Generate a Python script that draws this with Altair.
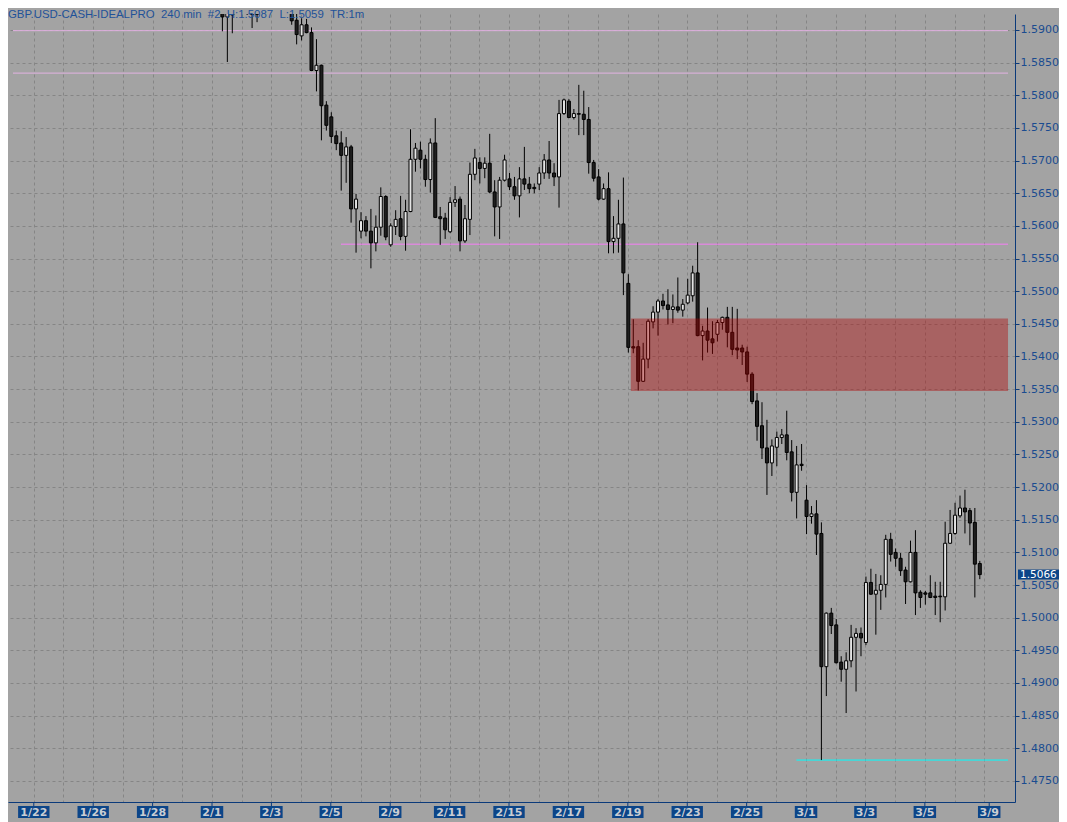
import altair as alt
import pandas as pd

# ---------------- data ----------------
TITLE = "GBP.USD-CASH-IDEALPRO\u00a0\u00a0240 min\u00a0\u00a0#2\u00a0\u00a0H:1.5087\u00a0\u00a0L:1.5059\u00a0\u00a0TR:1m"

first_bar = 43  # 4-hour bar number counted from the 1/22 session start

opens = [1.5928, 1.5920, 1.5931, 1.5931, 1.5950, 1.5934, 1.5932, 1.5929, 1.5945, 1.5960,
         1.5972, 1.5955, 1.5940, 1.5948, 1.5928, 1.5915, 1.5891, 1.5908, 1.5896, 1.5838,
         1.5846, 1.5785, 1.5767, 1.5738, 1.5727, 1.5708, 1.5721, 1.5626, 1.5592, 1.5608,
         1.5592, 1.5574, 1.5598, 1.5645, 1.5571, 1.5599, 1.5611, 1.5584, 1.5622, 1.5702,
         1.5716, 1.5702, 1.5671, 1.5727, 1.5614, 1.5612, 1.5591, 1.5636, 1.5641, 1.5577,
         1.5610, 1.5679, 1.5697, 1.5688, 1.5696, 1.5652, 1.5629, 1.5670, 1.5672, 1.5660,
         1.5646, 1.5672, 1.5664, 1.5659, 1.5664, 1.5681, 1.5701, 1.5681, 1.5675, 1.5772,
         1.5791, 1.5766, 1.5772, 1.5771, 1.5763, 1.5697, 1.5675, 1.5641, 1.5657, 1.5576,
         1.5581, 1.5603, 1.5512, 1.5415, 1.5415, 1.5362, 1.5396, 1.5453, 1.5468, 1.5485,
         1.5479, 1.5472, 1.5476, 1.5471, 1.5482, 1.5493, 1.5528, 1.5432, 1.5439, 1.5427,
         1.5434, 1.5452, 1.5460, 1.5437, 1.5413, 1.5413, 1.5407, 1.5373, 1.5332, 1.5294,
         1.5260, 1.5237, 1.5261, 1.5276, 1.5280, 1.5254, 1.5192, 1.5235, 1.5180, 1.5155,
         1.5159, 1.5129, 1.4925, 1.5007, 1.4989, 1.4932, 1.4921, 1.4934, 1.4970, 1.4976,
         1.4962, 1.5054, 1.5036, 1.5042, 1.5051, 1.5120, 1.5100, 1.5091, 1.5073, 1.5055,
         1.5100, 1.5039, 1.5038, 1.5038, 1.5033, 1.5033, 1.5032, 1.5114, 1.5129, 1.5156,
         1.5168, 1.5164, 1.5146, 1.5083]
highs = [1.5934, 1.5934, 1.5937, 1.5962, 1.5975, 1.5940, 1.5938, 1.5938, 1.5968, 1.5985,
         1.5990, 1.5970, 1.5958, 1.5952, 1.5934, 1.5928, 1.5918, 1.5917, 1.5904, 1.5886,
         1.5847, 1.5791, 1.5774, 1.5746, 1.5745, 1.5736, 1.5724, 1.5649, 1.5621, 1.5615,
         1.5626, 1.5616, 1.5659, 1.5647, 1.5604, 1.5624, 1.5646, 1.5640, 1.5748, 1.5727,
         1.5729, 1.5709, 1.5734, 1.5765, 1.5629, 1.5620, 1.5644, 1.5661, 1.5645, 1.5632,
         1.5697, 1.5718, 1.5705, 1.5705, 1.5741, 1.5670, 1.5675, 1.5709, 1.5681, 1.5675,
         1.5690, 1.5721, 1.5675, 1.5665, 1.5690, 1.5710, 1.5730, 1.5696, 1.5793, 1.5795,
         1.5794, 1.5779, 1.5816, 1.5807, 1.5782, 1.5701, 1.5687, 1.5665, 1.5682, 1.5615,
         1.5640, 1.5674, 1.5526, 1.5457, 1.5425, 1.5421, 1.5457, 1.5477, 1.5488, 1.5496,
         1.5503, 1.5495, 1.5521, 1.5488, 1.5519, 1.5539, 1.5575, 1.5447, 1.5475, 1.5454,
         1.5456, 1.5461, 1.5476, 1.5476, 1.5473, 1.5418, 1.5415, 1.5376, 1.5344, 1.5330,
         1.5303, 1.5273, 1.5285, 1.5289, 1.5317, 1.5272, 1.5263, 1.5266, 1.5203, 1.5171,
         1.5180, 1.5146, 1.5008, 1.5015, 1.4998, 1.4941, 1.4947, 1.4989, 1.4984, 1.4985,
         1.5063, 1.5075, 1.5067, 1.5065, 1.5127, 1.5130, 1.5106, 1.5099, 1.5078, 1.5118,
         1.5134, 1.5042, 1.5041, 1.5065, 1.5055, 1.5055, 1.5147, 1.5165, 1.5176, 1.5187,
         1.5196, 1.5168, 1.5168, 1.5087]
lows = [1.5898, 1.5851, 1.5895, 1.5928, 1.5938, 1.5923, 1.5903, 1.5912, 1.5936, 1.5948,
        1.5950, 1.5935, 1.5930, 1.5929, 1.5908, 1.5878, 1.5884, 1.5895, 1.5837, 1.5806,
        1.5731, 1.5746, 1.5727, 1.5716, 1.5654, 1.5666, 1.5605, 1.5559, 1.5581, 1.5584,
        1.5535, 1.5561, 1.5585, 1.5578, 1.5568, 1.5586, 1.5578, 1.5562, 1.5621, 1.5683,
        1.5688, 1.5660, 1.5651, 1.5612, 1.5571, 1.5580, 1.5589, 1.5629, 1.5561, 1.5574,
        1.5586, 1.5670, 1.5665, 1.5673, 1.5650, 1.5584, 1.5580, 1.5668, 1.5655, 1.5640,
        1.5613, 1.5655, 1.5650, 1.5650, 1.5655, 1.5672, 1.5672, 1.5661, 1.5628, 1.5770,
        1.5765, 1.5763, 1.5739, 1.5739, 1.5680, 1.5668, 1.5639, 1.5640, 1.5558, 1.5558,
        1.5559, 1.5494, 1.5406, 1.5405, 1.5348, 1.5361, 1.5382, 1.5443, 1.5432, 1.5472,
        1.5449, 1.5451, 1.5467, 1.5461, 1.5480, 1.5484, 1.5431, 1.5394, 1.5406, 1.5404,
        1.5423, 1.5441, 1.5414, 1.5402, 1.5396, 1.5387, 1.5361, 1.5327, 1.5271, 1.5243,
        1.5188, 1.5217, 1.5232, 1.5266, 1.5241, 1.5178, 1.5152, 1.5225, 1.5128, 1.5144,
        1.5096, 1.4782, 1.4880, 1.4975, 1.4930, 1.4902, 1.4854, 1.4924, 1.4887, 1.4941,
        1.4958, 1.5035, 1.4974, 1.5012, 1.5031, 1.5086, 1.5078, 1.5064, 1.5021, 1.5054,
        1.5004, 1.5015, 1.5020, 1.5030, 1.5004, 1.4993, 1.5011, 1.5113, 1.5127, 1.5153,
        1.5129, 1.5111, 1.5031, 1.5059]
closes = [1.5920, 1.5928, 1.5923, 1.5950, 1.5942, 1.5928, 1.5924, 1.5924, 1.5960, 1.5972,
          1.5955, 1.5940, 1.5948, 1.5932, 1.5914, 1.5893, 1.5908, 1.5896, 1.5838, 1.5846,
          1.5784, 1.5754, 1.5737, 1.5726, 1.5708, 1.5721, 1.5626, 1.5641, 1.5608, 1.5592,
          1.5574, 1.5598, 1.5645, 1.5583, 1.5600, 1.5610, 1.5584, 1.5622, 1.5702, 1.5719,
          1.5702, 1.5671, 1.5727, 1.5613, 1.5611, 1.5594, 1.5636, 1.5640, 1.5577, 1.5611,
          1.5679, 1.5704, 1.5688, 1.5696, 1.5652, 1.5629, 1.5670, 1.5701, 1.5660, 1.5646,
          1.5672, 1.5664, 1.5657, 1.5657, 1.5681, 1.5701, 1.5681, 1.5675, 1.5772, 1.5793,
          1.5766, 1.5772, 1.5771, 1.5763, 1.5697, 1.5673, 1.5641, 1.5657, 1.5576, 1.5581,
          1.5603, 1.5528, 1.5414, 1.5413, 1.5362, 1.5396, 1.5454, 1.5468, 1.5485, 1.5478,
          1.5472, 1.5476, 1.5471, 1.5480, 1.5494, 1.5528, 1.5432, 1.5439, 1.5425, 1.5421,
          1.5452, 1.5460, 1.5437, 1.5411, 1.5410, 1.5407, 1.5373, 1.5331, 1.5293, 1.5260,
          1.5237, 1.5263, 1.5276, 1.5280, 1.5253, 1.5192, 1.5234, 1.5233, 1.5155, 1.5159,
          1.5128, 1.4925, 1.5007, 1.4988, 1.4931, 1.4921, 1.4934, 1.4970, 1.4976, 1.4969,
          1.5054, 1.5036, 1.5042, 1.5051, 1.5120, 1.5097, 1.5091, 1.5072, 1.5055, 1.5100,
          1.5038, 1.5031, 1.5036, 1.5031, 1.5031, 1.5032, 1.5114, 1.5129, 1.5157, 1.5168,
          1.5162, 1.5145, 1.5082, 1.5066]

# horizontal drawings: price, first bar, last bar, colour
line_prices = [1.5899, 1.5834, 1.5572, 1.4782]
line_start = [0.7, 0.7, 66.96, 158.96]
line_end = [201.7, 201.7, 201.7, 201.7]
line_colors = ["#E2B2E2", "#E2B2E2", "#F57EF5", "#00FFFF"]

# supply/demand zone
zone_top, zone_bottom = 1.5458, 1.5347
zone_start, zone_end = 125.5, 201.7

# date labels on the time axis (bar position, label)
date_pos = [4.9, 16.9, 28.9, 40.9, 52.9, 64.9, 76.9, 88.9, 100.9, 112.9, 124.9,
            136.9, 148.9, 160.9, 172.9, 184.9, 197.9]
date_labels = ["1/22", "1/26", "1/28", "2/1", "2/3", "2/5", "2/9", "2/11", "2/15",
               "2/17", "2/19", "2/23", "2/25", "3/1", "3/3", "3/5", "3/9"]
day_grid = [round(4.9 + 6 * k, 1) for k in range(33)]
price_ticks = [round(1.4750 + 0.005 * k, 4) for k in range(24)]
last_price = 1.5066

# ---------------- build ----------------
BG = "#A3A3A3"
GRID = "#858585"
NAVY = "#0B3A7A"
NAVY_TXT = "#1A4C90"
BOX = "#0C4588"

W, H = 1007, 788
xs = alt.Scale(domain=[0.7, 202.1], nice=False, zero=False)
ys = alt.Scale(domain=[1.471776, 1.592450], nice=False, zero=False)

df = pd.DataFrame({
    "bar": list(range(first_bar, first_bar + len(opens))),
    "open": opens, "high": highs, "low": lows, "close": closes,
})
df["dir"] = ["up" if c > o else "down" for o, c in zip(df["open"], df["close"])]

xaxis = alt.Axis(values=day_grid, grid=True, gridColor=GRID, gridDash=[3, 3], gridWidth=1,
                 labels=False, ticks=False, domain=True, domainColor=NAVY, domainWidth=1,
                 title=None)
yaxis = alt.Axis(orient="right", values=price_ticks, format=".4f", grid=True, gridColor=GRID,
                 gridDash=[3, 3], gridWidth=1, tickColor=NAVY, tickSize=4, tickWidth=1,
                 labelColor=NAVY_TXT, labelFont="DejaVu Sans", labelFontSize=11,
                 labelPadding=1, domainColor=NAVY, domainWidth=1, title=None,
                 labelOverlap=False)


def X(field):
    return alt.X(field, scale=xs, axis=xaxis)


def Y(field):
    return alt.Y(field, scale=ys, axis=yaxis)


lines_df = pd.DataFrame({"price": line_prices, "s": line_start, "e": line_end, "c": line_colors})
lines = alt.Chart(lines_df).mark_rule(strokeWidth=1, clip=True).encode(
    x=X("s:Q"), x2="e:Q", y=Y("price:Q"),
    stroke=alt.Stroke("c:N", scale=None),
)

wicks = alt.Chart(df).mark_rule(color="black", strokeWidth=1, clip=True).encode(
    x=X("bar:Q"), y=Y("low:Q"), y2="high:Q",
)

bodies = alt.Chart(df).mark_bar(size=3, stroke="black", strokeWidth=1, clip=True).encode(
    x=X("bar:Q"), y=Y("open:Q"), y2="close:Q",
    fill=alt.Fill("dir:N", scale=alt.Scale(domain=["up", "down"], range=["#E4E4E4", "#1E1E1E"]),
                  legend=None),
)

zone_df = pd.DataFrame({"s": [zone_start], "e": [zone_end], "t": [zone_top], "b": [zone_bottom]})
zone = alt.Chart(zone_df).mark_rect(color="#B00000", opacity=0.4, clip=True).encode(
    x=X("s:Q"), x2="e:Q", y=Y("t:Q"), y2="b:Q",
)

lab_df = pd.DataFrame({"pos": date_pos, "label": date_labels})
lab_df["half"] = [(9 * len(s) - 4.3) / 10 for s in date_labels]
lab_df["x1"] = lab_df["pos"] - lab_df["half"]
lab_df["x2"] = lab_df["pos"] + lab_df["half"]

date_ticks = alt.Chart(lab_df).mark_rule(color=NAVY, strokeWidth=1).encode(
    x=X("pos:Q"), y=alt.value(H), y2=alt.value(H + 4),
)
date_boxes = alt.Chart(lab_df).mark_rect(color=BOX).encode(
    x=X("x1:Q"), x2="x2:Q", y=alt.value(H + 4), y2=alt.value(H + 16),
)
date_text = alt.Chart(lab_df).mark_text(font="DejaVu Sans", fontSize=11, fontWeight="bold",
                                        color="#C9CDD3", baseline="middle").encode(
    x=X("pos:Q"), y=alt.value(H + 10.5), text="label:N",
)

tag_df = pd.DataFrame({"price": [last_price], "label": [f"{last_price:.4f}"]})
tag_box = alt.Chart(tag_df).mark_rect(color=BOX, yOffset=-5, y2Offset=5).encode(
    x=alt.value(W + 3), x2=alt.value(W + 44),
    y=Y("price:Q"), y2="price:Q",
)
tag_text = alt.Chart(tag_df).mark_text(font="DejaVu Sans", fontSize=10.5, color="white",
                                       align="left", baseline="middle").encode(
    x=alt.value(W + 5), y=Y("price:Q"), text="label:N",
)

title_df = pd.DataFrame({"t": [TITLE]})
title = alt.Chart(title_df).mark_text(font="Liberation Sans", fontSize=11.4, color="#1F5299",
                                      align="left", baseline="alphabetic").encode(
    x=alt.value(0), y=alt.value(4), text="t:N",
)

chart = alt.layer(
    lines, wicks, bodies, zone, date_ticks, date_boxes, date_text, tag_box, tag_text, title
).properties(
    width=W, height=H,
    autosize=alt.AutoSizeParams(type="none"),
    padding={"left": 0, "top": 6, "right": 44, "bottom": 20},
    background=BG,
).configure_view(stroke=None, fill=BG)

chart.save("out.html", embed_options={"renderer": "svg", "actions": False})
